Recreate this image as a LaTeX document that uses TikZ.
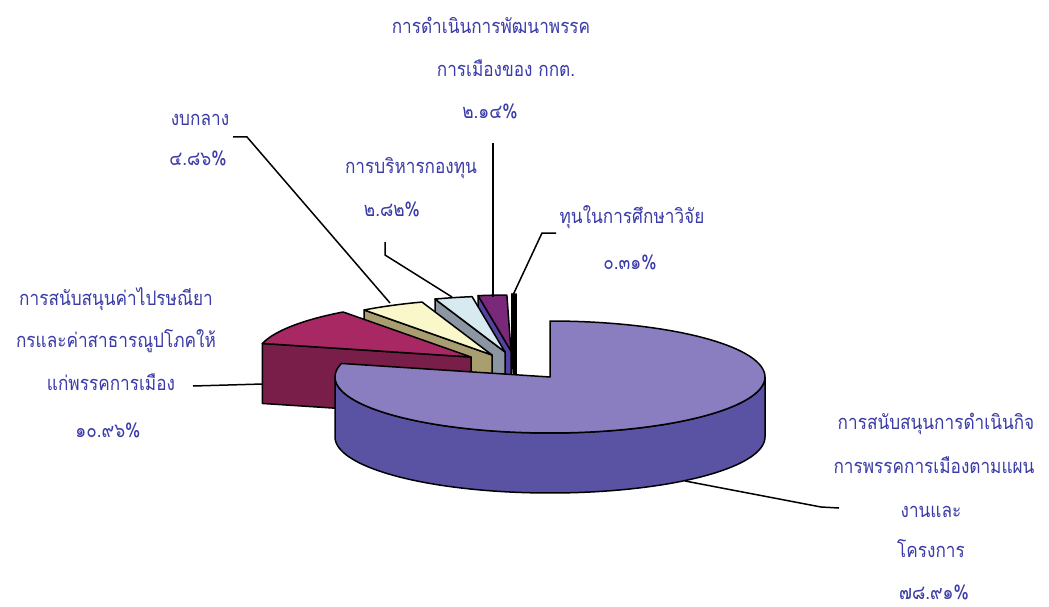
\documentclass[tikz,border=0pt]{standalone}
\usepackage{fontspec}
\newfontfamily\thaifont[Script=Thai, FakeStretch=0.86]{Loma}
\definecolor{txtblue}{RGB}{58,58,168}
\definecolor{maintop}{RGB}{138,126,192}
\definecolor{mainside}{RGB}{90,82,162}
\definecolor{magtop}{RGB}{168,40,100}
\definecolor{magside}{RGB}{120,30,72}
\definecolor{creamtop}{RGB}{250,248,202}
\definecolor{creamside}{RGB}{168,158,112}
\definecolor{bluetop}{RGB}{214,234,240}
\definecolor{blueside}{RGB}{140,150,162}
\definecolor{purptop}{RGB}{122,40,122}
\definecolor{purpside}{RGB}{86,66,160}
\tikzset{lbl/.style={text=txtblue, anchor=base, inner sep=0pt,
    font=\thaifont\fontsize{20}{20}\selectfont},
  leader/.style={line width=1.5pt, black},
  face/.style={draw=black, line width=1.5pt, line join=round}}

\begin{document}
\begin{tikzpicture}[x=1pt,y=-1pt]
\fill[white] (0,0) rectangle (1049,607);
\useasboundingbox (0,0) rectangle (1049,607);

% exploded slices, back to front
\foreach \ax/\ay/\aa/\ab/\ct/\cs in {516/350/90/91.1/black/black,
    511/351/91.1/98.8/purptop/purpside, 505/352/98.8/109/bluetop/blueside,
    492/355/109/126.5/creamtop/creamside, 471/357/126.5/166/magtop/magside}
{
\draw[face, fill=\cs] (\ax,\ay) -- ({\ax+215*cos(\ab)},{\ay-56*sin(\ab)})
  -- ++(0,60) -- (\ax,{\ay+60}) -- cycle;
\draw[face, fill=\ct] (\ax,\ay) -- plot[domain=\aa:\ab, samples=30]
  ({\ax+215*cos(\x)},{\ay-56*sin(\x)}) -- cycle;
}

% main slice
\draw[face, fill=mainside] plot[domain=-180:0, samples=80]
  ({550+215*cos(\x)},{377-56*sin(\x)})
  -- plot[domain=0:-180, samples=80] ({550+215*cos(\x)},{437-56*sin(\x)}) -- cycle;
\draw[face, fill=maintop] (550,377) -- plot[domain=90:-194, samples=120]
  ({550+215*cos(\x)},{377-56*sin(\x)}) -- cycle;

% labels
\node[lbl] (gov1) at (491,34) {การดำเนินการพัฒนาพรรค};
\node[lbl] (gov2) at (506,77) {การเมืองของ กกต.};
\node[lbl] (govp) at (490,119) {๒.๑๔\%};
\node[lbl] (bud1) at (200,125) {งบกลาง};
\node[lbl] (budp) at (198,165) {๔.๘๖\%};
\node[lbl] (fund1) at (411,173) {การบริหารกองทุน};
\node[lbl] (fundp) at (392,216) {๒.๘๒\%};
\node[lbl] (res1) at (632,223) {ทุนในการศึกษาวิจัย};
\node[lbl] (resp) at (630,269) {๐.๓๑\%};
\node[lbl] (post1) at (116,305) {การสนับสนุนค่าไปรษณียา};
\node[lbl] (post2) at (116,347) {กรและค่าสาธารณูปโภคให้};
\node[lbl] (post3) at (111,390) {แก่พรรคการเมือง};
\node[lbl] (postp) at (108,437) {๑๐.๙๖\%};
\node[lbl] (main1) at (936,429) {การสนับสนุนการดำเนินกิจ};
\node[lbl] (main2) at (934,473) {การพรรคการเมืองตามแผน};
\node[lbl] (main3) at (931,517) {งานและ};
\node[lbl] (main4) at (931,557) {โครงการ};
\node[lbl] (mainp) at (934,599) {๗๘.๙๑\%};

% leaders
\coordinate (gov end) at (493,143);  \coordinate (gov tip) at (493,297);
\coordinate (bud end) at (233,137);  \coordinate (bud bend) at (247,137);
\coordinate (bud tip) at (390,303);
\coordinate (fund end) at (385,242); \coordinate (fund bend) at (385,255);
\coordinate (fund tip) at (452,297);
\coordinate (res end) at (556,233);  \coordinate (res bend) at (542,233);
\coordinate (res tip) at (513,295);
\coordinate (post end) at (193,386); \coordinate (post tip) at (263,384);
\coordinate (main end) at (839,508); \coordinate (main bend) at (821,507);
\coordinate (main tip) at (685,481);
\draw[leader] (gov end) -- (gov tip);
\draw[leader] (bud end) -- (bud bend) -- (bud tip);
\draw[leader] (fund end) -- (fund bend) -- (fund tip);
\draw[leader] (res end) -- (res bend) -- (res tip);
\draw[leader] (post end) -- (post tip);
\draw[leader] (main end) -- (main bend) -- (main tip);
\end{tikzpicture}
\end{document}
